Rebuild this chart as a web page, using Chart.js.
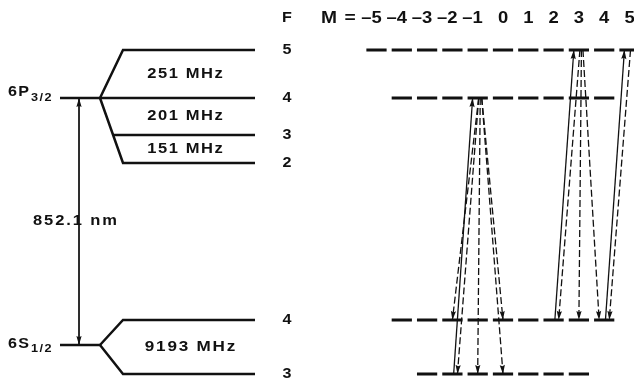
<!DOCTYPE html>
<html><head><meta charset="utf-8">
<script src="https://cdn.jsdelivr.net/npm/chart.js@4"></script>
<style>html,body{margin:0;padding:0;background:#fff;}canvas{display:block}</style>
</head><body>
<canvas id="c" width="634" height="380"></canvas>
<script>
// ---------------- data ----------------
const upperStateLabel = ['6P', '3/2'];
const lowerStateLabel = ['6S', '1/2'];
const upperF = [5, 4, 3, 2];
const upperSplittings = ['251 MHz', '201 MHz', '151 MHz'];
const lowerF = [4, 3];
const lowerSplittings = ['9193 MHz'];
const wavelengthLabel = '852.1 nm';
const mTicks = [-5, -4, -3, -2, -1, 0, 1, 2, 3, 4, 5];
const sublevelUpperF = [5, 4];
const sublevelLowerF = [4, 3];
// absorption (solid, upward): [lower F, M, upper F', M']
const absorptionLines = [[3, -2, 4, -1], [4, 2, 5, 3], [4, 4, 5, 5]];
// spontaneous emission (dashed, downward): [upper F', M', lower F, M]
const emissionLines = [
  [4, -1, 4, -2], [4, -1, 3, -2], [4, -1, 3, -1], [4, -1, 3, 0], [4, -1, 4, 0],
  [5, 3, 4, 2], [5, 3, 4, 3], [5, 3, 4, 4], [5, 5, 4, 4]
];

// ---------------- schematic layout (axis units) ----------------
const LEVEL_Y = { upper: {5: 33.0, 4: 28.2, 3: 24.5, 2: 21.7}, lower: {4: 6.0, 3: 0.6} };
const FINE_Y = { upper: 28.2, lower: 3.5 };
const LX = { stem: 60, fork: 100, branch: 123, end: 255, fLabel: 287, arrow: 79, state: 8,
             splitUpper: 185, splitLower: 190, wl: 75, mLetter: 329, mEq: 350 };
const HEADER_Y = 36.15;
const INK = '#111';
const FONT = '"Liberation Sans", Arial, sans-serif';

const datasets = [];
function line(points, opts) {
  datasets.push(Object.assign({
    data: points, showLine: true, pointRadius: 0, pointHoverRadius: 0,
    borderColor: INK, backgroundColor: INK, borderWidth: 2.5, tension: 0,
    spanGaps: false, clip: false, borderJoinStyle: 'miter'
  }, opts));
}

function fineGroup(key, Fs) {
  const y0 = FINE_Y[key];
  const ys = Fs.map(F => LEVEL_Y[key][F]);
  const top = Math.max(...ys), bot = Math.min(...ys);
  line([{x: LX.stem, y: y0}, {x: LX.fork, y: y0}]);
  Fs.forEach(F => {
    const y = LEVEL_Y[key][F];
    let pts;
    if (y === top || y === bot) {
      pts = [{x: LX.fork, y: y0}, {x: LX.branch, y}, {x: LX.end, y}];
    } else if (Math.abs(y - y0) < 1e-6) {
      pts = [{x: LX.fork, y: y0}, {x: LX.end, y}];
    } else {
      const edge = y > y0 ? top : bot;
      const xs = LX.fork + (LX.branch - LX.fork) * (y - y0) / (edge - y0);
      pts = [{x: xs, y}, {x: LX.end, y}];
    }
    line(pts);
  });
}
fineGroup('upper', upperF);
fineGroup('lower', lowerF);
// optical transition arrow
line([{x: LX.arrow, y: FINE_Y.upper}, {x: LX.arrow, y: FINE_Y.lower}], {borderWidth: 1, arrow: 'both'});

function subLevels(y, F) {
  const pts = [];
  mTicks.filter(M => Math.abs(M) <= F).forEach(M => {
    pts.push({x: M - 0.4, y}, {x: M + 0.4, y}, {x: M + 0.5, y: null});
  });
  line(pts, {xAxisID: 'm', borderWidth: 3});
}
sublevelUpperF.forEach(F => subLevels(LEVEL_Y.upper[F], F));
sublevelLowerF.forEach(F => subLevels(LEVEL_Y.lower[F], F));

const absStarts = new Set(absorptionLines.map(([F, M]) => F + ':' + M));
absorptionLines.forEach(([F, M, Fu, Mu]) => line(
  [{x: M + 0.05, y: LEVEL_Y.lower[F]}, {x: Mu - 0.2, y: LEVEL_Y.upper[Fu]}],
  {xAxisID: 'm', borderWidth: 1.3, arrow: 'end'}));
emissionLines.forEach(([Fu, Mu, F, M]) => {
  const shift = absStarts.has(F + ':' + M) ? 0.2 * Math.sign(Mu - M) : 0;
  line([{x: Mu + 0.1 + 0.06 * (M - Mu), y: LEVEL_Y.upper[Fu]}, {x: M + shift, y: LEVEL_Y.lower[F]}],
       {xAxisID: 'm', borderWidth: 1.3, borderDash: [7, 3], arrow: 'end'});
});

function drawHead(ctx, from, to) {
  const ang = Math.atan2(to.y - from.y, to.x - from.x);
  const len = 9, half = 2.6;
  ctx.save();
  ctx.translate(to.x, to.y); ctx.rotate(ang);
  ctx.beginPath();
  ctx.moveTo(0, 0); ctx.lineTo(-len, half); ctx.lineTo(-len * 0.85, 0); ctx.lineTo(-len, -half);
  ctx.closePath(); ctx.fillStyle = INK; ctx.fill();
  ctx.restore();
}
const arrowPlugin = {
  id: 'arrows',
  afterDatasetsDraw(chart) {
    chart.data.datasets.forEach((ds, i) => {
      if (!ds.arrow) return;
      const pts = chart.getDatasetMeta(i).data;
      const a = pts[0], b = pts[pts.length - 1];
      drawHead(chart.ctx, a, b);
      if (ds.arrow === 'both') drawHead(chart.ctx, b, a);
    });
  }
};

const textPlugin = {
  id: 'texts',
  afterDraw(chart) {
    const {ctx, scales} = chart;
    const X = v => scales.x.getPixelForValue(v);
    const MX = v => scales.m.getPixelForValue(v);
    const Y = v => scales.y.getPixelForValue(v);
    ctx.save();
    ctx.fillStyle = INK; ctx.textBaseline = 'middle';
    // draws widened bold text; returns drawn width
    function txt(s, px, py, size, align, ls, sx) {
      ls = ls === undefined ? 1 : ls; sx = sx || 1.15;
      ctx.font = 'bold ' + size + 'px ' + FONT;
      ctx.letterSpacing = ls + 'px';
      const w = (ctx.measureText(s).width - ls) * sx;
      let left = px;
      if (align === 'center' || !align) left = px - w / 2;
      else if (align === 'right') left = px - w;
      ctx.save();
      ctx.translate(left, py); ctx.scale(sx, 1);
      ctx.textAlign = 'left';
      ctx.fillText(s, 0, 0);
      ctx.restore();
      return w;
    }
    function measure(s, size, ls, sx) {
      ctx.font = 'bold ' + size + 'px ' + FONT;
      ctx.letterSpacing = ls + 'px';
      return (ctx.measureText(s).width - ls) * sx;
    }
    // F column
    txt('F', X(LX.fLabel), Y(HEADER_Y), 14);
    upperF.forEach(F => txt(String(F), X(LX.fLabel), Y(LEVEL_Y.upper[F]), 14));
    lowerF.forEach(F => txt(String(F), X(LX.fLabel), Y(LEVEL_Y.lower[F]), 14));
    // splittings
    for (let i = 0; i < upperSplittings.length; i++) {
      const yv = (LEVEL_Y.upper[upperF[i]] + LEVEL_Y.upper[upperF[i + 1]]) / 2;
      txt(upperSplittings[i], X(LX.splitUpper), Y(yv), 14, 'center', 1.3, 1.18);
    }
    for (let i = 0; i < lowerSplittings.length; i++) {
      const yv = (LEVEL_Y.lower[lowerF[i]] + LEVEL_Y.lower[lowerF[i + 1]]) / 2;
      txt(lowerSplittings[i], X(LX.splitLower), Y(yv), 14.5, 'center', 1.5, 1.18);
    }
    // state labels
    const w1 = txt(upperStateLabel[0], X(LX.state), Y(FINE_Y.upper) - 5.5, 14, 'left', 1.2, 1.15);
    txt(upperStateLabel[1], X(LX.state) + w1 + 2, Y(FINE_Y.upper) - 0.5, 11, 'left', 1.2, 1.15);
    const w2 = txt(lowerStateLabel[0], X(LX.state), Y(FINE_Y.lower) - 1, 14, 'left', 1.2, 1.15);
    txt(lowerStateLabel[1], X(LX.state) + w2 + 2, Y(FINE_Y.lower) + 3.5, 11, 'left', 1.2, 1.15);
    // wavelength
    txt(wavelengthLabel, X(LX.wl), Y((FINE_Y.upper + FINE_Y.lower) / 2), 14, 'center', 1.6, 1.18);
    // M header
    const hy = Y(HEADER_Y) + 0.5;
    txt('M', X(LX.mLetter), hy, 16, 'center', 0, 1.2);
    txt('=', X(LX.mEq), hy, 16, 'center', 0, 1.2);
    mTicks.forEach(M => {
      const digits = String(Math.abs(M));
      const lab = (M < 0 ? '\u2013' : '') + digits;
      const full = measure(lab, 16, 0, 1.15), dw = measure(digits, 16, 0, 1.15);
      txt(lab, MX(M) - dw / 2 - (full - dw), hy, 16, 'left', 0, 1.15);
    });
    ctx.restore();
  }
};

new Chart(document.getElementById('c'), {
  type: 'scatter',
  data: { datasets },
  options: {
    responsive: false, animation: false, devicePixelRatio: 1, events: [],
    layout: { padding: 0 },
    plugins: { legend: { display: false }, tooltip: { enabled: false } },
    scales: {
      x: { type: 'linear', min: 0, max: 634, display: false },
      m: { type: 'linear', axis: 'x', position: 'bottom', min: -19.881, max: 5.178, display: false },
      y: { type: 'linear', min: 0, max: 38, display: false }
    }
  },
  plugins: [arrowPlugin, textPlugin]
});
</script>
</body></html>
